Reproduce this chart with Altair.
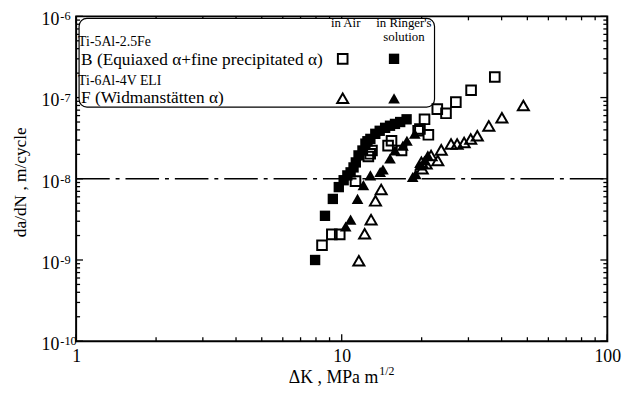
import altair as alt
import pandas as pd

# ---------------- data ----------------
# Ti-5Al-2.5Fe, B  (in air: open squares)
b_air_dk = [8.43, 9.18, 9.83, 11.27, 12.6, 12.8, 13.0, 14.95, 15.4, 16.8, 19.4, 19.7,
            20.5, 21.2, 22.9, 24.7, 26.9, 30.7, 37.7]
b_air_rate = [1.52e-9, 2.07e-9, 2.07e-9, 9.35e-9, 1.88e-8, 2.03e-8, 2.23e-8, 2.56e-8,
              2.94e-8, 2.23e-8, 3.9e-8, 4.1e-8, 5.4e-8, 3.48e-8, 7.2e-8, 6.4e-8,
              8.8e-8, 1.23e-7, 1.79e-7]
# Ti-5Al-2.5Fe, B  (in Ringer's solution: filled squares)
b_ringer_dk = [7.94, 8.65, 9.26, 9.75, 10.17, 10.5, 10.8, 11.08, 11.3, 11.57, 11.97,
               12.28, 12.5, 12.82, 13.38, 13.9, 14.57, 15.2, 15.87, 16.6, 17.55]
b_ringer_rate = [1.0e-9, 3.5e-9, 5.65e-9, 7.9e-9, 9.6e-9, 1.1e-8, 1.2e-8, 1.38e-8,
                 1.59e-8, 1.94e-8, 2.23e-8, 2.71e-8, 2.9e-8, 3.1e-8, 3.58e-8, 3.9e-8,
                 4.24e-8, 4.5e-8, 4.74e-8, 5.0e-8, 5.4e-8]
# Ti-6Al-4V ELI, F (in air: open triangles)
f_air_dk = [11.6, 12.2, 12.9, 13.4, 14.08, 19.95, 20.1, 20.8, 21.7, 23.0, 23.7, 25.8,
            27.2, 28.9, 30.6, 32.4, 35.8, 40.1, 48.3]
f_air_rate = [9.8e-10, 2.1e-9, 3.14e-9, 5.35e-9, 7.4e-9, 1.6e-8, 1.33e-8, 1.53e-8,
              1.94e-8, 1.68e-8, 2.27e-8, 2.68e-8, 2.68e-8, 2.8e-8, 3.09e-8, 3.39e-8,
              4.48e-8, 5.65e-8, 8.0e-8]
# Ti-6Al-4V ELI, F (in Ringer's solution: filled triangles)
f_ringer_dk = [10.35, 10.8, 11.47, 12.07, 12.82, 13.96, 14.3, 15.2, 15.87, 17.0, 17.6,
               18.84, 18.5, 19.0, 19.7, 20.5, 21.1]
f_ringer_rate = [2.58e-9, 3.14e-9, 5.65e-9, 8.35e-9, 1.1e-8, 1.21e-8, 1.3e-8, 1.78e-8,
                 2.23e-8, 2.56e-8, 2.94e-8, 3.58e-8, 1.05e-8, 1.14e-8, 1.46e-8,
                 1.68e-8, 1.94e-8]

reference_rate = [1e-8]

x_major = [1, 10, 100]
x_minor = [2, 3, 4, 5, 6, 7, 8, 9, 20, 30, 40, 50, 60, 70, 80, 90]
y_major = [1e-10, 1e-9, 1e-8, 1e-7, 1e-6]
y_major_exp = ["-10", "-9", "-8", "-7", "-6"]
y_minor = [k * 10.0 ** e for e in (-10, -9, -8, -7) for k in range(2, 10)]

legend_alloys = ["Ti-5Al-2.5Fe", "Ti-6Al-4V ELI"]
legend_series = ["B (Equiaxed \u03b1+fine precipitated \u03b1)", "F (Widmanst\u00e4tten \u03b1)"]
legend_cols = ["in Air", "in Ringer's", "solution"]
x_title = "\u0394K , MPa m"
x_title_sup = "1/2"
y_title = "da/dN , m/cycle"

# ---------------- layout ----------------
W, H = 538, 329
SERIF = "Liberation Serif"

xs = alt.Scale(type="log", domain=[1, 100], nice=False)
ys = alt.Scale(type="log", domain=[1e-10, 1e-6], nice=False)

xaxis = alt.Axis(values=x_major, ticks=False, domain=False, grid=False, labelFont=SERIF,
                 labelFontSize=18, labelColor="black", labelPadding=7, title=None,
                 labelFlush=False, format="d")


def X(field):
    return alt.X(f"{field}:Q", scale=xs, axis=xaxis)


def Y(field):
    return alt.Y(f"{field}:Q", scale=ys, axis=None)


layers = []

# dash-dot reference line at 1e-8
layers.append(
    alt.Chart(pd.DataFrame({"r": reference_rate}))
    .mark_rule(color="black", strokeWidth=1.4, strokeDash=[34, 6, 4, 6])
    .encode(y=Y("r"), x=alt.value(0), x2=alt.value(W))
)

# inward ticks on all four sides
for vals, ln in ((x_major, 7), (x_minor, 4)):
    d = pd.DataFrame({"v": vals})
    layers.append(alt.Chart(d).mark_rule(color="black", strokeWidth=1.3)
                  .encode(x=X("v"), y=alt.value(H), y2=alt.value(H - ln)))
    layers.append(alt.Chart(d).mark_rule(color="black", strokeWidth=1.3)
                  .encode(x=X("v"), y=alt.value(0), y2=alt.value(ln)))
for vals, ln in ((y_major, 7), (y_minor, 4)):
    d = pd.DataFrame({"v": vals})
    layers.append(alt.Chart(d).mark_rule(color="black", strokeWidth=1.3)
                  .encode(y=Y("v"), x=alt.value(0), x2=alt.value(ln)))
    layers.append(alt.Chart(d).mark_rule(color="black", strokeWidth=1.3)
                  .encode(y=Y("v"), x=alt.value(W), x2=alt.value(W - ln)))

# y-axis labels: "10" with a raised exponent
ylab = pd.DataFrame({"v": y_major, "e": y_major_exp, "b": ["10"] * len(y_major)})
layers.append(alt.Chart(ylab).mark_text(align="right", baseline="middle", font=SERIF,
                                        fontSize=18, color="black", dy=4)
              .encode(y=Y("v"), x=alt.value(-17), text="b:N"))
layers.append(alt.Chart(ylab).mark_text(align="left", baseline="middle", font=SERIF,
                                        fontSize=12.5, color="black", dy=0)
              .encode(y=Y("v"), x=alt.value(-16), text="e:N"))

# legend box
layers.append(
    alt.Chart(pd.DataFrame({"a": [0]}))
    .mark_rect(fill="white", stroke="black", strokeWidth=1.2, cornerRadius=8)
    .encode(x=alt.value(3), x2=alt.value(363), y=alt.value(2), y2=alt.value(92))
)

# data points
series = [
    (b_air_dk, b_air_rate, "square", False),
    (b_ringer_dk, b_ringer_rate, "square", True),
    (f_air_dk, f_air_rate, "triangle-up", False),
    (f_ringer_dk, f_ringer_rate, "triangle-up", True),
]


def marker(d, shape, filled):
    big = 140 if shape == "triangle-up" else 110
    if filled:
        return alt.Chart(d).mark_point(shape=shape, filled=True, fill="black",
                                       color="black", size=big, opacity=1)
    return alt.Chart(d).mark_point(shape=shape, filled=False, color="black",
                                   strokeWidth=2, size=big - 15, opacity=1)


for dk, rate, shape, filled in series:
    d = pd.DataFrame({"dk": dk, "rate": rate})
    layers.append(marker(d, shape, filled).encode(x=X("dk"), y=Y("rate")))


def text(t, x, y, size, align="left", baseline="alphabetic", angle=0):
    return (alt.Chart(pd.DataFrame({"t": [t]}))
            .mark_text(align=align, baseline=baseline, font=SERIF, fontSize=size,
                       color="black", angle=angle)
            .encode(x=alt.value(x), y=alt.value(y), text="t:N"))


def symbol(x, y, shape, filled):
    return marker(pd.DataFrame({"a": [0]}), shape, filled).encode(
        x=alt.value(x), y=alt.value(y))


# legend content
layers += [
    text(legend_alloys[0], 2, 30.5, 14),
    text(legend_series[0], 5, 49, 17.5),
    text(legend_alloys[1], 2, 70, 14),
    text(legend_series[1], 5, 88, 17.5),
    text(legend_cols[0], 273, 11, 13, align="center"),
    text(legend_cols[1], 332, 11, 13, align="center"),
    text(legend_cols[2], 332, 25, 13, align="center"),
    symbol(270, 43, "square", False),
    symbol(322, 43, "square", True),
    symbol(270, 83, "triangle-up", False),
    symbol(322, 83, "triangle-up", True),
]

# axis titles
layers += [
    text(x_title, 306, 371, 18, align="right"),
    text(x_title_sup, 307, 363, 12),
    text(y_title, -56, 168, 17.5, align="center", baseline="middle", angle=270),
]

chart = (
    alt.layer(*layers)
    .properties(width=W, height=H,
                autosize=alt.AutoSizeParams(type="none"),
                padding={"left": 69, "top": 6, "right": 24, "bottom": 51})
    .configure_view(stroke="black", strokeWidth=2)
)

chart.save("out.html", embed_options={"renderer": "svg", "actions": False})
